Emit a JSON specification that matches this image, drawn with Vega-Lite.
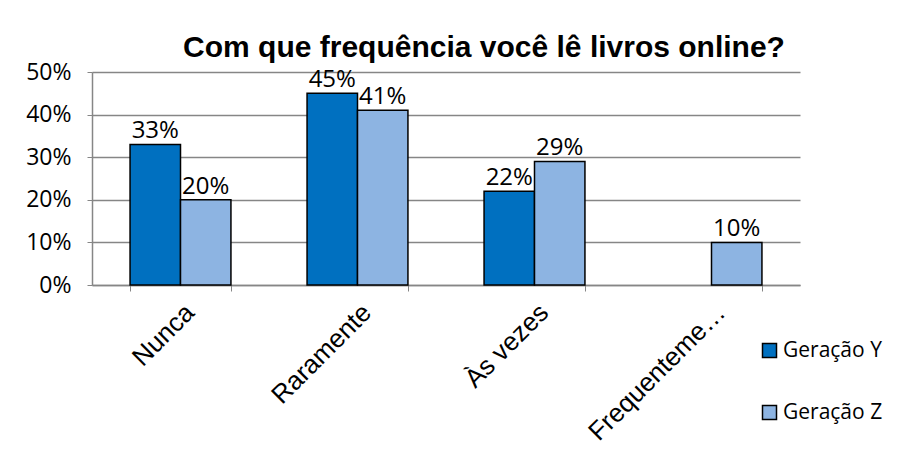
{
  "$schema": "https://vega.github.io/schema/vega-lite/v6.json",
  "autosize": "none",
  "width": 708,
  "height": 213,
  "padding": {"left": 92, "top": 72, "right": 119, "bottom": 173},
  "background": "white",
  "title": {
    "text": "Com que frequência você lê livros online?",
    "font": "Liberation Sans",
    "fontSize": 30,
    "fontWeight": "bold",
    "color": "black",
    "anchor": "middle",
    "dx": 38,
    "offset": -2
  },
  "data": {
    "values": [
      {"cat": "Nunca", "ger": "Geração Y", "v": 0.33},
      {"cat": "Nunca", "ger": "Geração Z", "v": 0.20},
      {"cat": "Raramente", "ger": "Geração Y", "v": 0.45},
      {"cat": "Raramente", "ger": "Geração Z", "v": 0.41},
      {"cat": "Às vezes", "ger": "Geração Y", "v": 0.22},
      {"cat": "Às vezes", "ger": "Geração Z", "v": 0.29},
      {"cat": "Frequentemente", "ger": "Geração Z", "v": 0.10}
    ]
  },
  "encoding": {
    "x": {
      "field": "cat",
      "type": "nominal",
      "sort": ["Nunca", "Raramente", "Às vezes", "Frequentemente"],
      "scale": {"paddingInner": 0.43, "paddingOuter": 0.215},
      "axis": {
        "title": null,
        "labelAngle": -45,
        "labelFont": "Liberation Sans",
        "labelFontSize": 26,
        "labelColor": "black",
        "labelLimit": 188,
        "labelPadding": 8,
        "tickBand": "extent",
        "tickSize": 6,
        "tickColor": "#868686",
        "domainColor": "#868686",
        "domainWidth": 1.5
      }
    },
    "xOffset": {"field": "ger", "type": "nominal", "scale": {"domain": ["Geração Y", "Geração Z"]}},
    "y": {
      "field": "v",
      "type": "quantitative",
      "scale": {"domain": [0, 0.5]},
      "axis": {
        "title": null,
        "format": "%",
        "values": [0, 0.1, 0.2, 0.3, 0.4, 0.5],
        "labelFont": "Open Sans",
        "labelFontSize": 23,
        "labelColor": "black",
        "labelPadding": 16,
        "tickSize": 5,
        "tickColor": "#868686",
        "domainColor": "#868686",
        "domainWidth": 1.5,
        "gridColor": "#868686",
        "gridWidth": 1.5
      }
    }
  },
  "layer": [
    {
      "mark": {"type": "bar", "stroke": "black", "strokeWidth": 1.5},
      "encoding": {
        "color": {
          "field": "ger",
          "type": "nominal",
          "scale": {"domain": ["Geração Y", "Geração Z"], "range": ["#0070C0", "#8DB4E2"]},
          "legend": {
            "title": null,
            "orient": "none",
            "legendX": 667,
            "legendY": 268,
            "symbolType": "square",
            "symbolSize": 196,
            "symbolStrokeColor": "black",
            "symbolStrokeWidth": 1.5,
            "labelFont": "Open Sans",
            "labelFontSize": 21,
            "labelColor": "black",
            "rowPadding": 40,
            "labelOffset": 3
          }
        }
      }
    },
    {
      "mark": {"type": "text", "baseline": "bottom", "dy": -1, "font": "Open Sans", "fontSize": 24, "color": "black"},
      "encoding": {
        "text": {"field": "v", "type": "quantitative", "format": ".0%"}
      }
    }
  ],
  "config": {"view": {"stroke": null}}
}
